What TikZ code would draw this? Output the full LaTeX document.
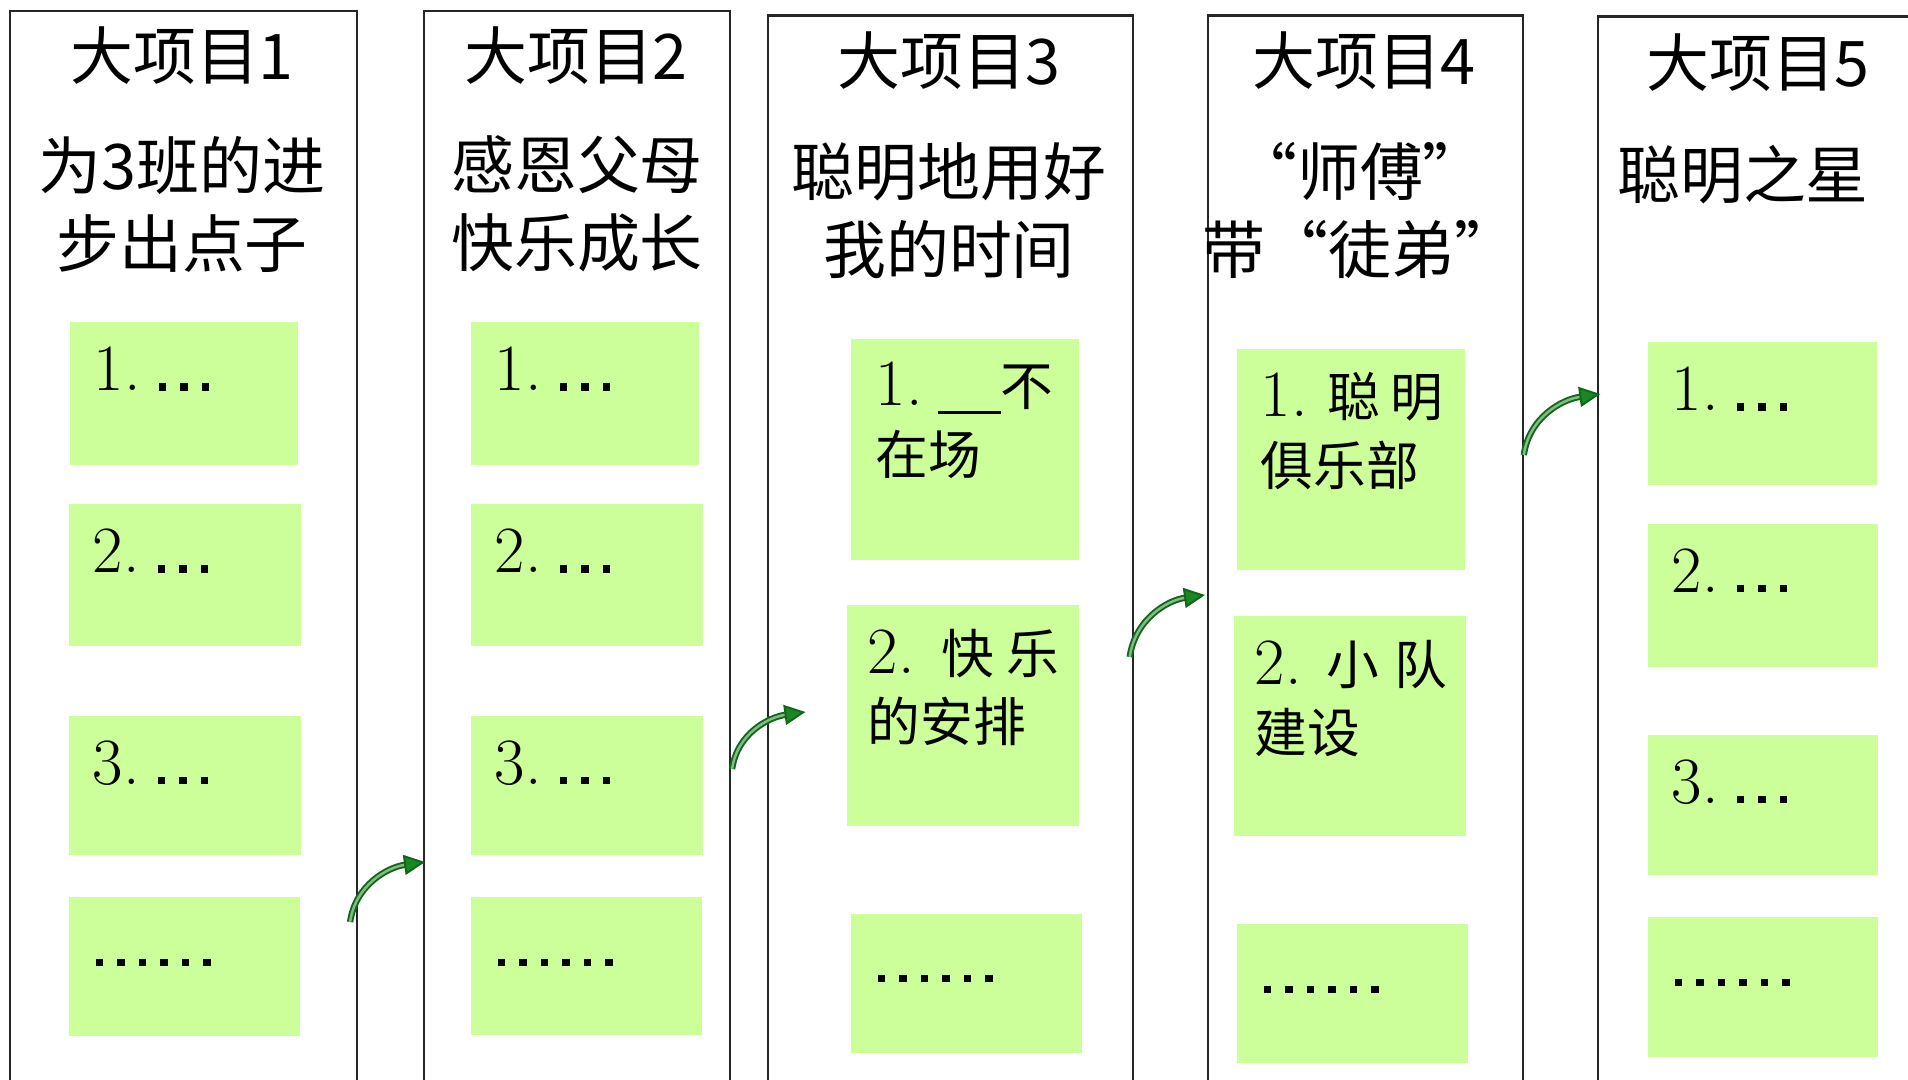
\documentclass[tikz,border=0pt]{standalone}
\usepackage{fontspec}
\newfontfamily\cjk{Noto Sans CJK SC}
\usetikzlibrary{arrows.meta}
\definecolor{cardgreen}{RGB}{204,255,153}
\definecolor{arrowgreen}{RGB}{25,135,35}
\newcommand{\zh}[1]{{\cjk\fontsize{15pt}{19.6pt}\selectfont #1}}
\newcommand{\dd}{\rule{0.075cm}{0.075cm}\hspace{0.14cm}}

\begin{document}
\begin{tikzpicture}
\tikzset{
    column/.style={
           draw=black!85,
           line width=0.6pt,
           anchor=north west,
           minimum height=11.5cm,
           inner sep=0pt},
    title/.style={
           anchor=base,
           inner sep=0pt,
           font=\cjk\fontsize{17.9pt}{22.1pt}\selectfont},
    subtitle/.style={
           anchor=base,
           inner sep=0pt,
           text width=3.4cm,
           align=center,
           font=\cjk\fontsize{17.9pt}{22.1pt}\selectfont},
    card/.style={
           fill=cardgreen,
           anchor=north west,
           inner sep=0pt},
    entry/.style={
           anchor=base west,
           inner sep=0pt,
           text width=2.05cm,
           align=left,
           font=\fontsize{18.8pt}{19.6pt}\selectfont},
    % Define arrow style
    flow/.style= {
           -{Triangle[length=0.21cm,width=0.2cm,fill=arrowgreen]},
           draw=arrowgreen!75!black,
           double=arrowgreen!55!white,
           double distance=0.7pt,
           line width=0.55pt
    }
}
\useasboundingbox (0,0) rectangle (19.08,-10.8);
\clip (0,0) rectangle (19.08,-10.8);
% columns
\node[column, minimum width=3.473cm] (col1) at (0.087,-0.096) {};
\node[column, minimum width=3.055cm] (col2) at (4.23,-0.096) {};
\node[column, minimum width=3.649cm] (col3) at (7.667,-0.145) {};
\node[column, minimum width=3.147cm] (col4) at (12.07,-0.145) {};
\node[column, minimum width=3.25cm] (col5) at (15.973,-0.155) {};
% headings
\node[title] (title1) at (1.82,-0.80) {大项目1};
\node[title] (title2) at (5.76,-0.80) {大项目2};
\node[title] (title3) at (9.49,-0.85) {大项目3};
\node[title] (title4) at (13.64,-0.85) {大项目4};
\node[title] (title5) at (17.58,-0.87) {大项目5};
\node[subtitle] (sub1) at (1.82,-1.90) {为3班的进\\步出点子};
\node[subtitle] (sub2) at (5.77,-1.89) {感恩父母\\快乐成长};
\node[subtitle] (sub3) at (9.49,-1.96) {聪明地用好\\我的时间};
\node[subtitle] (sub4) at (13.60,-1.96) {“师傅”\\带“徒弟”};
\node[subtitle] (sub5) at (17.43,-1.99) {聪明之星};
% cards of column 1
\node[card, minimum width=2.28cm, minimum height=1.43cm] (card11) at (0.69,-3.21) {};
\node[card, minimum width=2.32cm, minimum height=1.42cm] (card12) at (0.68,-5.03) {};
\node[card, minimum width=2.32cm, minimum height=1.39cm] (card13) at (0.68,-7.15) {};
\node[card, minimum width=2.31cm, minimum height=1.39cm] (card14) at (0.68,-8.96) {};
\node[entry] (entry11) at ([shift={(0.24,-0.70)}]card11.north west) {1.\hspace{0.18cm}\dd\dd\dd};
\node[entry] (entry12) at ([shift={(0.24,-0.70)}]card12.north west) {2.\hspace{0.18cm}\dd\dd\dd};
\node[entry] (entry13) at ([shift={(0.24,-0.69)}]card13.north west) {3.\hspace{0.18cm}\dd\dd\dd};
\node[entry] (entry14) at ([shift={(0.27,-0.70)}]card14.north west) {\dd\dd\dd\dd\dd\dd};
% cards of column 2
\node[card, minimum width=2.28cm, minimum height=1.43cm] (card21) at (4.70,-3.21) {};
\node[card, minimum width=2.32cm, minimum height=1.42cm] (card22) at (4.70,-5.03) {};
\node[card, minimum width=2.32cm, minimum height=1.39cm] (card23) at (4.70,-7.15) {};
\node[card, minimum width=2.31cm, minimum height=1.38cm] (card24) at (4.70,-8.96) {};
\node[entry] (entry21) at ([shift={(0.24,-0.70)}]card21.north west) {1.\hspace{0.18cm}\dd\dd\dd};
\node[entry] (entry22) at ([shift={(0.24,-0.70)}]card22.north west) {2.\hspace{0.18cm}\dd\dd\dd};
\node[entry] (entry23) at ([shift={(0.24,-0.69)}]card23.north west) {3.\hspace{0.18cm}\dd\dd\dd};
\node[entry] (entry24) at ([shift={(0.27,-0.70)}]card24.north west) {\dd\dd\dd\dd\dd\dd};
% cards of column 3
\node[card, minimum width=2.28cm, minimum height=2.21cm] (card31) at (8.50,-3.38) {};
\node[card, minimum width=2.32cm, minimum height=2.21cm] (card32) at (8.46,-6.04) {};
\node[card, minimum width=2.31cm, minimum height=1.39cm] (card33) at (8.50,-9.13) {};
\node[entry] (entry31) at ([shift={(0.25,-0.68)}]card31.north west) {1.\hspace{0.15cm}\rule[-2.2pt]{0.63cm}{0.8pt}\zh{不}\\\zh{在场}};
\node[entry] (entry32) at ([shift={(0.21,-0.69)}]card32.north west) {2.\hspace{0.27cm}\zh{快\hspace{0.12cm}乐}\\\zh{的安排}};
\node[entry] (entry33) at ([shift={(0.27,-0.69)}]card33.north west) {\dd\dd\dd\dd\dd\dd};
% cards of column 4
\node[card, minimum width=2.28cm, minimum height=2.21cm] (card41) at (12.36,-3.48) {};
\node[card, minimum width=2.32cm, minimum height=2.20cm] (card42) at (12.33,-6.15) {};
\node[card, minimum width=2.31cm, minimum height=1.39cm] (card43) at (12.36,-9.23) {};
\node[entry] (entry41) at ([shift={(0.24,-0.69)}]card41.north west) {1.\hspace{0.2cm}\zh{聪\hspace{0.1cm}明}\\\zh{俱乐部}};
\node[entry] (entry42) at ([shift={(0.21,-0.69)}]card42.north west) {2.\hspace{0.25cm}\zh{小\hspace{0.15cm}队}\\\zh{建设}};
\node[entry] (entry43) at ([shift={(0.27,-0.70)}]card43.north west) {\dd\dd\dd\dd\dd\dd};
% cards of column 5
\node[card, minimum width=2.29cm, minimum height=1.43cm] (card51) at (16.47,-3.41) {};
\node[card, minimum width=2.30cm, minimum height=1.43cm] (card52) at (16.47,-5.23) {};
\node[card, minimum width=2.30cm, minimum height=1.40cm] (card53) at (16.47,-7.34) {};
\node[card, minimum width=2.30cm, minimum height=1.40cm] (card54) at (16.47,-9.16) {};
\node[entry] (entry51) at ([shift={(0.24,-0.70)}]card51.north west) {1.\hspace{0.18cm}\dd\dd\dd};
\node[entry] (entry52) at ([shift={(0.24,-0.69)}]card52.north west) {2.\hspace{0.18cm}\dd\dd\dd};
\node[entry] (entry53) at ([shift={(0.24,-0.69)}]card53.north west) {3.\hspace{0.18cm}\dd\dd\dd};
\node[entry] (entry54) at ([shift={(0.27,-0.70)}]card54.north west) {\dd\dd\dd\dd\dd\dd};
% arrows between columns
\draw[flow] ([shift={(-0.08,-9.124)}]col1.north east) to[out=82,in=188] ([shift={(0.02,-8.524)}]col2.north west);
\draw[flow] ([shift={(0.015,-7.594)}]col2.north east) to[out=82,in=188] ([shift={(0.387,-6.975)}]col3.north west);
\draw[flow] ([shift={(-0.04,-6.425)}]col3.north east) to[out=82,in=188] ([shift={(-0.02,-5.805)}]col4.north west);
\draw[flow] ([shift={(0.0,-4.405)}]col4.north east) to[out=82,in=188] ([shift={(0.03,-3.785)}]col5.north west);
\end{tikzpicture}
\end{document}
